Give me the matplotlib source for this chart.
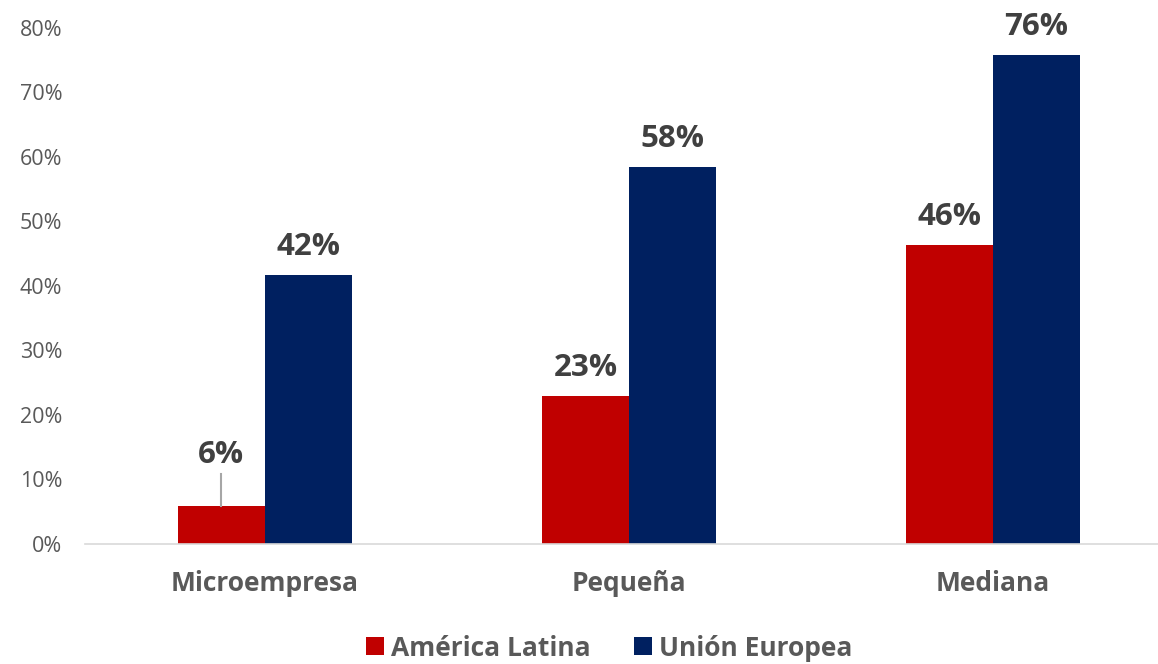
import numpy as np
import matplotlib.pyplot as plt

# data
categories = ["Microempresa", "Pequeña", "Mediana"]
america_latina = [5.9, 22.9, 46.4]
union_europea = [41.7, 58.4, 75.8]
series_names = ["América Latina", "Unión Europea"]
yticks = [0, 10, 20, 30, 40, 50, 60, 70, 80]

red = "#C00000"
navy = "#002060"
label_col = "#404040"
tick_col = "#595959"

plt.rcParams['font.family'] = ['Open Sans', 'DejaVu Sans']

fig = plt.figure(figsize=(11.58, 6.64), dpi=100)
ax = fig.add_axes([0.073, 0.181, 0.927, 0.777])

x = np.arange(len(categories))
w = 0.239
bars_al = ax.bar(x - w / 2, america_latina, w, color=red, label=series_names[0])
bars_ue = ax.bar(x + w / 2, union_europea, w, color=navy, label=series_names[1])

# data labels
for bars, vals in [(bars_al, america_latina), (bars_ue, union_europea)]:
    for b, v in zip(bars, vals):
        cx = b.get_x() + b.get_width() / 2
        if v < 10:
            # small bar: label lifted with a leader line
            ax.plot([cx, cx], [v, v + 5], color="#a6a6a6", lw=1.5)
            ax.text(cx, v + 5.6, f"{v:.0f}%", ha="center", va="bottom",
                    fontsize=22.5, fontweight="bold", color=label_col)
        else:
            ax.text(cx, v + 2.0, f"{v:.0f}%", ha="center", va="bottom",
                    fontsize=22.5, fontweight="bold", color=label_col)

ax.set_xlim(-0.495, 2.453)
ax.set_ylim(0, 80)
ax.set_yticks(yticks)
ax.set_yticklabels([f"{t}%" for t in yticks])
ax.set_xticks(x)
ax.set_xticklabels(categories, fontweight="bold")

ax.tick_params(axis="y", length=0, pad=16, labelsize=15.5, labelcolor=tick_col)
ax.tick_params(axis="x", length=0, pad=19, labelsize=19, labelcolor=tick_col)

for s in ["left", "right", "top"]:
    ax.spines[s].set_visible(False)
ax.spines["bottom"].set_color("#d9d9d9")
ax.spines["bottom"].set_linewidth(1.2)

leg = fig.legend(loc="center", bbox_to_anchor=(0.526, 0.024), ncol=2, frameon=False,
                 handlelength=0.68, handleheight=0.68, handletextpad=0.25,
                 columnspacing=1.65, prop={"size": 19, "weight": "bold"})
for t in leg.get_texts():
    t.set_color(tick_col)

fig.savefig("out.png", dpi=100)
